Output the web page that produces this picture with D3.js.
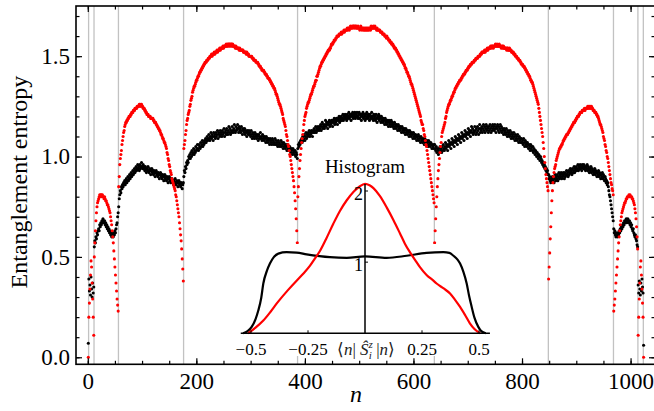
<!DOCTYPE html>
<html>
<head>
<meta charset="utf-8">
<script src="https://cdn.jsdelivr.net/npm/d3@7"></script>
<style>
  html, body { margin: 0; padding: 0; background: #fff; }
  svg { display: block; }
  svg text { font-family: "Liberation Serif", "Times New Roman", serif; }
</style>
</head>
<body>
<svg id="chart" width="654" height="411"></svg>
<script>
// Last eigenstate index of each magnetization sector (a divider is drawn after each)
const sectorEnds = [1, 11, 56, 176, 386, 638, 848, 968, 1013, 1023];

// Entanglement entropy (in hundredths) of eigenstates n = 1..1024, one list per sector
const redEntropy = [
  [0],
  [20,27,34,41,48,45,37,29,20,11],
  [50,57,63,68,72,75,77,78,79,80, 81,80,81,81,80,81,80,80,79,80, 79,78,78,77,76,76,75,74,73,72,
   70,68,66,63,60,57,53,49,45,41, 37,33,29,26,23],
  [85,90,96,99,101,103,106,108,110,112,
   113,115,116,117,117,118,118,119,119,120,
   120,120,121,121,122,122,122,123,123,123,
   124,124,124,124,125,125,125,125,126,126,
   125,126,126,125,125,124,124,124,123,123,
   122,122,121,121,121,120,120,120,120,119,
   119,119,119,119,118,118,117,117,117,116,
   116,115,115,114,114,113,113,112,111,111,
   110,109,109,108,107,107,106,105,104,102,
   101,99,98,96,95,93,92,91,89,88,
   87,86,85,84,83,81,80,78,76,74,
   72,70,67,64,61,58,54,49,44,38],
  [104,106,108,111,113,116,118,119,121,122,
   123,125,126,128,129,130,132,133,134,135,
   135,136,137,138,138,139,140,140,141,142,
   142,143,143,144,144,145,145,146,146,147,
   147,147,148,148,148,149,149,149,150,150,
   150,151,150,151,151,151,152,151,152,152,
   152,153,152,153,153,153,154,153,154,154,
   154,154,155,154,155,155,155,155,156,155,
   155,156,156,155,156,156,155,156,156,155,
   156,155,155,155,155,154,155,154,154,154,
   154,154,153,154,153,153,153,153,153,153,
   152,152,152,152,152,151,152,151,151,151,
   150,150,150,150,150,150,149,149,149,148,
   148,148,148,147,147,147,147,146,146,145,
   145,145,144,144,143,143,143,143,142,142,
   141,141,141,140,140,139,139,139,138,138,
   137,137,136,136,135,135,134,134,133,132,
   131,131,130,129,128,127,126,126,125,124,
   123,122,121,119,118,117,116,115,113,111,
   110,108,106,105,103,101,100,98,96,94,
   92,90,88,85,82,78,74,69,63,57],
  [80,85,90,94,98,101,104,107,109,111,
   113,116,118,120,121,122,124,125,126,127,
   127,128,129,130,131,131,132,133,134,135,
   135,136,137,138,138,140,140,141,142,143,
   144,145,145,146,147,147,148,148,149,149,
   150,150,151,151,152,152,153,153,153,154,
   154,155,156,156,156,157,157,158,158,158,
   159,159,160,160,160,160,161,161,161,161,
   162,161,162,162,162,163,162,163,163,163,
   163,164,163,164,164,163,164,165,164,164,
   165,164,165,165,164,165,165,164,165,164,
   164,165,164,164,163,164,165,164,163,164,
   164,163,164,163,164,163,164,163,164,163,
   164,163,164,164,163,165,164,164,164,165,
   164,164,165,164,164,163,164,163,163,163,
   163,163,162,162,162,162,161,161,161,161,
   160,160,160,159,160,159,159,158,158,158,
   157,157,157,156,156,156,155,155,154,154,
   154,153,153,152,152,151,151,150,150,149,
   149,148,148,147,147,146,146,145,144,144,
   143,142,142,141,140,140,139,138,137,136,
   136,135,134,133,132,131,130,129,128,127,
   126,125,124,123,122,121,120,118,117,116,
   116,114,113,111,110,108,106,105,103,101,
   99,97,95,93,91,89,87,85,83,81,
   79,77],
  [57,63,69,75,80,85,89,93,96,99,
   102,105,107,110,112,113,114,115,116,117,
   119,120,122,123,124,125,126,126,127,128,
   128,129,130,130,131,132,132,133,134,134,
   135,135,136,136,137,137,138,138,138,139,
   139,140,140,141,141,141,142,142,143,143,
   143,144,144,145,145,145,146,146,146,147,
   147,147,147,148,148,148,149,149,149,149,
   150,150,150,150,151,151,151,152,152,152,
   152,152,153,152,153,153,153,154,153,154,
   154,154,154,155,154,155,155,155,154,155,
   155,155,156,155,155,156,155,155,155,156,
   155,155,155,154,155,155,154,155,154,154,
   154,154,154,153,154,154,153,153,154,153,
   153,153,152,152,152,152,151,151,151,150,
   150,150,149,149,149,148,148,148,147,147,
   146,146,146,145,145,145,144,144,143,143,
   142,142,141,141,140,140,139,138,138,137,
   137,136,135,134,133,132,131,130,129,128,
   127,126,124,122,120,118,116,114,112,110,
   107,104,100,97,94,91,89,87,85,83],
  [39,45,52,59,65,72,78,83,87,90,
   92,94,95,96,98,99,100,101,102,103,
   104,104,105,105,106,106,107,108,108,109,
   109,110,110,111,111,111,112,112,113,113,
   114,114,115,115,116,116,117,117,117,118,
   118,119,119,120,120,120,121,121,122,122,
   122,122,123,123,123,123,124,123,124,124,
   124,124,125,124,125,125,124,125,124,125,
   124,124,123,123,123,122,122,122,121,121,
   120,120,119,118,117,116,116,115,114,113,
   112,110,109,108,106,105,103,102,100,99,
   97,95,93,91,89,87,86,84,83,81],
  [23,26,29,33,37,41,45,49,53,57,
   60,63,66,68,70,72,73,74,75,76,
   77,77,78,79,79,80,80,80,81,80,
   81,80,80,80,79,79,78,77,76,74,
   72,69,65,60,54],
  [11,20,29,37,45,48,41,34,27,20],
  [0]
];

const blackEntropy = [
  [7],
  [39,33,36,31,40,34,30,37,32,35],
  [55,58,57,60,59,62,61,63,64,63, 66,65,67,66,68,67,69,68,67,68, 66,67,65,66,64,65,63,64,62,63,
   61,62,60,62,61,60,62,61,63,62, 64,66,67,70,72],
  [75,79,81,83,82,85,84,86,85,87,
   86,88,86,87,89,87,88,90,88,89,
   91,89,90,92,90,91,93,91,92,94,
   92,93,95,93,94,96,94,95,93,96,
   94,95,97,95,94,96,94,95,93,95,
   94,92,94,93,95,93,92,94,93,91,
   93,94,92,93,91,93,92,90,92,93,
   91,92,90,92,91,89,91,92,90,91,
   89,91,90,88,90,91,89,90,88,90,
   89,87,89,90,88,89,87,88,89,87,
   88,86,88,87,89,87,86,88,87,85,
   87,88,86,87,85,87,86,84,86,87],
  [90,93,92,95,94,97,96,98,97,100,
   99,101,99,102,100,103,101,102,104,101,
   103,102,105,103,104,106,104,103,106,105,
   104,107,105,106,108,105,107,106,108,107,
   109,107,108,110,108,109,111,109,108,110,
   112,109,111,110,108,112,110,111,109,112,
   110,111,113,109,112,111,110,113,111,112,
   110,113,111,112,114,110,112,113,111,114,
   112,111,113,115,112,114,111,113,112,115,
   113,112,114,116,113,112,115,113,114,116,
   114,112,115,113,114,112,115,113,111,114,
   113,112,114,111,113,112,110,113,112,111,
   113,111,112,110,113,111,109,112,110,111,
   109,112,110,111,109,111,110,108,111,109,
   110,112,109,110,108,111,109,110,108,110,
   109,107,110,108,109,107,109,108,106,109,
   107,108,106,109,107,108,106,107,109,106,
   108,106,107,105,108,106,107,105,106,108,
   105,107,106,104,107,105,106,104,106,105,
   103,106,104,105,103,105,104,102,104,103,
   101,104,102,103,101,103,100,102,101,99],
  [104,106,105,107,106,108,107,109,107,110,
   108,109,111,108,110,112,109,111,110,112,
   111,113,110,112,111,113,112,110,113,112,
   114,112,113,115,112,114,113,115,114,113,
   115,114,116,113,115,117,114,116,115,114,
   116,118,115,117,116,114,117,116,118,115,
   117,116,118,117,115,118,117,119,116,118,
   117,119,118,116,119,118,120,117,119,118,
   120,118,119,121,118,120,119,121,119,120,
   118,121,119,120,122,119,121,120,118,121,
   120,122,119,121,120,122,119,121,120,122,
   120,119,121,122,119,121,120,118,121,120,
   122,119,121,120,118,121,119,122,120,119,
   121,120,118,121,119,120,122,119,120,118,
   121,119,120,118,121,119,117,120,119,121,
   118,120,119,117,120,118,119,117,119,118,
   116,119,117,118,116,118,117,115,118,116,
   117,115,118,116,117,115,116,114,117,115,
   116,114,116,115,113,116,114,115,113,115,
   114,112,115,113,114,112,114,113,111,114,
   112,113,111,113,112,110,113,111,112,110,
   112,111,109,112,110,111,109,111,110,108,
   110,109,111,108,110,109,107,110,108,109,
   107,109,108,106,109,107,108,106,108,107,
   105,108,106,107,105,107,106,104,106,105,
   104,106],
  [106,104,103,105,102,104,103,101,104,102,
   105,103,104,102,105,103,106,104,103,105,
   107,104,106,105,103,106,108,105,107,106,
   104,107,109,106,108,107,105,108,110,107,
   109,108,106,109,111,108,110,109,107,110,
   112,109,111,110,108,111,113,110,112,111,
   109,112,114,111,113,112,110,113,115,112,
   114,111,113,112,115,113,111,114,112,115,
   113,111,114,116,112,114,113,115,112,114,
   116,113,115,112,114,116,113,115,114,112,
   115,113,116,114,112,115,113,116,114,115,
   113,116,114,112,115,114,116,113,115,112,
   114,116,113,115,112,114,113,111,114,112,
   113,111,114,112,110,113,111,112,110,113,
   111,109,112,110,111,109,112,110,108,111,
   109,110,108,111,109,107,110,108,109,107,
   109,107,108,106,109,107,105,108,106,107,
   105,107,106,104,106,105,103,106,104,105,
   103,105,102,104,103,101,103,102,100,102,
   101,99,101,100,98,100,99,97,98,96,
   97,95,96,94,95,93,94,92,93,91],
  [91,89,90,88,87,89,88,90,88,89,
   87,89,91,88,90,89,91,88,90,92,
   89,91,90,92,89,91,90,92,91,89,
   92,90,91,93,91,92,90,93,91,92,
   94,92,93,91,94,92,93,95,92,94,
   93,95,93,94,96,93,95,94,96,94,
   95,93,96,95,94,96,94,95,93,95,
   94,96,93,95,94,92,94,93,95,92,
   94,93,91,93,92,94,91,93,92,90,
   92,91,93,90,92,91,89,91,90,92,
   89,91,90,88,90,89,87,88,86,87,
   85,83,81,80,78,76,74,72,70,68],
  [64,62,63,61,60,62,61,60,62,61,
   63,62,64,63,65,64,66,65,67,66,
   68,67,68,69,67,68,69,68,67,68,
   66,67,65,66,64,63,64,62,61,60,
   61,59,58,56,55],
  [36,32,38,34,31,37,33,39,35,32],
  [6]
];

// Main axes ticks and labels
const xTicks = [0, 200, 400, 600, 800, 1000];
const yTicks = [0.0, 0.5, 1.0, 1.5];

// Inset: histogram of <n|S_i^z|n> (x, density) for the two series
const histTicksX = [-0.5, -0.25, 0.25, 0.5];
const histTickLabels = ["\u22120.5", "\u22120.25", "0.25", "0.5"];
const histTicksY = [1, 2];
const histRed = [
  [-0.513,0],[-0.48,0.08],[-0.446,0.18],[-0.415,0.30],[-0.387,0.42],[-0.34,0.60],[-0.30,0.74],
  [-0.27,0.84],[-0.241,0.95],[-0.22,1.05],[-0.197,1.16],[-0.17,1.33],[-0.139,1.54],[-0.11,1.72],
  [-0.08,1.87],[-0.05,1.99],[-0.025,2.06],[0,2.10],[0.02,2.08],[0.037,2.04],[0.065,1.93],
  [0.095,1.77],[0.125,1.59],[0.154,1.40],[0.175,1.26],[0.197,1.14],[0.22,1.03],[0.241,0.93],
  [0.27,0.82],[0.30,0.74],[0.314,0.70],[0.345,0.63],[0.373,0.56],[0.395,0.47],[0.417,0.37],
  [0.44,0.25],[0.46,0.14],[0.48,0.06],[0.505,0]
];
const histBlack = [
  [-0.535,0],[-0.515,0.03],[-0.497,0.09],[-0.48,0.20],[-0.468,0.32],[-0.455,0.50],[-0.446,0.70],
  [-0.43,0.88],[-0.417,0.98],[-0.40,1.07],[-0.38,1.12],[-0.344,1.14],[-0.30,1.135],[-0.256,1.11],
  [-0.20,1.085],[-0.154,1.07],[-0.08,1.06],[0,1.08],[0.095,1.06],[0.183,1.09],[0.27,1.13],
  [0.344,1.14],[0.37,1.13],[0.388,1.09],[0.405,1.04],[0.417,0.98],[0.432,0.86],[0.446,0.70],
  [0.457,0.52],[0.468,0.37],[0.48,0.22],[0.497,0.09],[0.51,0.03],[0.53,0]
];

const SERIF = '"Liberation Serif", "Times New Roman", serif';
const svg = d3.select("#chart");
const plotL = 76, plotR = 655, plotT = 6, plotB = 364.3;

const x = d3.scaleLinear().domain([-21.7, 1045]).range([plotL, plotR]);
const y = d3.scaleLinear().domain([-0.035, 1.75]).range([plotB, plotT]);

const toPoints = sectors => sectors.flat().map((v, i) => ({ n: i + 1, s: v / 100 }));

// sector dividers
svg.append("g").selectAll("line").data(sectorEnds).join("line")
  .attr("x1", d => x(d + 0.5)).attr("x2", d => x(d + 0.5))
  .attr("y1", plotT).attr("y2", plotB)
  .attr("stroke", "#c2c2c2").attr("stroke-width", 1.3);

// eigenstate entropies
svg.append("g").selectAll("circle").data(toPoints(blackEntropy)).join("circle")
  .attr("cx", d => x(d.n)).attr("cy", d => y(d.s)).attr("r", 1.55).attr("fill", "#000");
svg.append("g").selectAll("circle").data(toPoints(redEntropy)).join("circle")
  .attr("cx", d => x(d.n)).attr("cy", d => y(d.s)).attr("r", 1.55).attr("fill", "#f00");

// axes with inward ticks
function addAxis(axis, transform) {
  const g = svg.append("g").attr("transform", transform).call(axis);
  g.select(".domain").remove();
  g.selectAll("line").attr("stroke", "#000").attr("stroke-width", 1.2);
  g.selectAll("text").attr("fill", "#000").style("font-family", SERIF).style("font-size", "23px");
  return g;
}
const xMinor = d3.range(0, 1041, 50);
const yMinor = d3.range(0, 1.75, 0.1);

addAxis(d3.axisBottom(x).tickValues(xMinor).tickSize(-3.5).tickFormat(""), `translate(0,${plotB})`);
addAxis(d3.axisBottom(x).tickValues(xTicks).tickSize(-6).tickPadding(8).tickFormat(d3.format("d")), `translate(0,${plotB})`);
addAxis(d3.axisTop(x).tickValues(xMinor).tickSize(-3.5).tickFormat(""), `translate(0,${plotT})`);
addAxis(d3.axisTop(x).tickValues(xTicks).tickSize(-6).tickFormat(""), `translate(0,${plotT})`);
addAxis(d3.axisLeft(y).tickValues(yMinor).tickSize(-3.5).tickFormat(""), `translate(${plotL},0)`);
addAxis(d3.axisLeft(y).tickValues(yTicks).tickSize(-6).tickPadding(6).tickFormat(d3.format(".1f")), `translate(${plotL},0)`);
addAxis(d3.axisRight(y).tickValues(yMinor).tickSize(-3.5).tickFormat(""), `translate(${plotR},0)`);
addAxis(d3.axisRight(y).tickValues(yTicks).tickSize(-6).tickFormat(""), `translate(${plotR},0)`);

svg.append("rect").attr("x", plotL).attr("y", plotT)
  .attr("width", plotR - plotL).attr("height", plotB - plotT)
  .attr("fill", "none").attr("stroke", "#000").attr("stroke-width", 1.6);

// axis titles
svg.append("text").attr("transform", `translate(27,${(plotT + plotB) / 2 - 3}) rotate(-90)`)
  .attr("text-anchor", "middle").style("font-size", "24px").text("Entanglement entropy");
svg.append("text").attr("x", 356).attr("y", 402).attr("text-anchor", "middle")
  .style("font-size", "24px").attr("font-style", "italic").text("n");

// ---- inset histogram ----
const hx = d3.scaleLinear().domain([-0.5, 0.5]).range([251, 479]);
const hy = d3.scaleLinear().domain([0, 2]).range([333.3, 191]);
const inset = svg.append("g");

inset.append("rect").attr("x", 236).attr("y", 244).attr("width", 258).attr("height", 112).attr("fill", "#fff");

const curve = d3.line().x(d => hx(d[0])).y(d => hy(d[1])).curve(d3.curveMonotoneX);
inset.append("path").datum(histBlack).attr("d", curve)
  .attr("fill", "none").attr("stroke", "#000").attr("stroke-width", 2.2);
inset.append("path").datum(histRed).attr("d", curve)
  .attr("fill", "none").attr("stroke", "#f00").attr("stroke-width", 2.2);

// inset axes
inset.append("line").attr("x1", hx(-0.545)).attr("x2", hx(0.548)).attr("y1", hy(0)).attr("y2", hy(0))
  .attr("stroke", "#000").attr("stroke-width", 1.5);
inset.append("line").attr("x1", hx(0)).attr("x2", hx(0)).attr("y1", hy(0)).attr("y2", hy(2.1))
  .attr("stroke", "#000").attr("stroke-width", 1.5);
inset.append("g").selectAll("line").data(histTicksX).join("line")
  .attr("x1", d => hx(d)).attr("x2", d => hx(d)).attr("y1", hy(0)).attr("y2", hy(0) - 3)
  .attr("stroke", "#000").attr("stroke-width", 1);
inset.append("g").selectAll("line").data(histTicksY).join("line")
  .attr("x1", hx(0)).attr("x2", hx(0) + 3).attr("y1", d => hy(d)).attr("y2", d => hy(d))
  .attr("stroke", "#000").attr("stroke-width", 1);
inset.append("g").selectAll("text").data(histTicksX).join("text")
  .attr("x", d => hx(d)).attr("y", 355).attr("text-anchor", "middle").style("font-size", "17px")
  .text((d, i) => histTickLabels[i]);
inset.append("g").selectAll("text").data(histTicksY).join("text")
  .attr("x", hx(0) - 2).attr("y", d => hy(d) + 9).attr("text-anchor", "end").style("font-size", "18px")
  .text(d => d);

inset.append("text").attr("x", hx(0)).attr("y", 173).attr("text-anchor", "middle")
  .style("font-size", "19px").text("Histogram");

const lab = inset.append("text").attr("x", 366).attr("y", 355).attr("text-anchor", "middle")
  .style("font-size", "17px").attr("fill", "#222");
lab.append("tspan").text("\u27E8");
lab.append("tspan").attr("font-style", "italic").text("n");
lab.append("tspan").text("| ");
lab.append("tspan").attr("font-style", "italic").text("\u015C");
lab.append("tspan").style("font-size", "11px").attr("font-style", "italic").attr("dy", -7).text("z");
lab.append("tspan").style("font-size", "11px").attr("font-style", "italic").attr("dx", -4).attr("dy", 11).text("i");
lab.append("tspan").attr("dy", -4).text(" |");
lab.append("tspan").attr("font-style", "italic").text("n");
lab.append("tspan").text("\u27E9");
</script>
</body>
</html>
